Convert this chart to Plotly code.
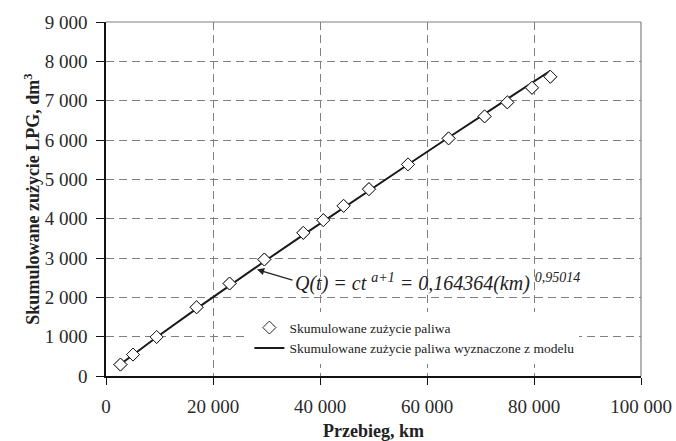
import plotly.graph_objects as go

# Data
przebieg_km = [2700, 5050, 9460, 16935, 23100, 29590, 36880, 40620, 44410,
               49150, 56450, 64040, 70770, 75010, 79630, 83050]
zuzycie_dm3 = [290, 545, 992, 1748, 2351, 2962, 3639, 3962, 4326,
               4750, 5379, 6041, 6601, 6957, 7328, 7608]
# Model curve values read at the same mileages
model_dm3 = [299, 542, 985, 1713, 2301, 2911, 3589, 3934, 4282,
             4716, 5378, 6063, 6667, 7046, 7457, 7761]

x_tickvals = [0, 20000, 40000, 60000, 80000, 100000]
x_ticktext = ["0", "20 000", "40 000", "60 000", "80 000", "100 000"]
y_tickvals = [0, 1000, 2000, 3000, 4000, 5000, 6000, 7000, 8000, 9000]
y_ticktext = ["0", "1 000", "2 000", "3 000", "4 000", "5 000",
              "6 000", "7 000", "8 000", "9 000"]

FONT = "Liberation Serif, Times New Roman, serif"

fig = go.Figure()
fig.add_trace(go.Scatter(
    x=przebieg_km, y=zuzycie_dm3, mode="markers",
    name="Skumulowane zużycie paliwa",
    marker=dict(symbol="diamond", size=10, color="white",
                line=dict(color="#222222", width=1)),
))
fig.add_trace(go.Scatter(
    x=przebieg_km, y=model_dm3, mode="lines",
    name="Skumulowane zużycie paliwa wyznaczone z modelu",
    line=dict(color="#1a1a1a", width=2),
))
# re-draw markers on top of the line
fig.add_trace(go.Scatter(
    x=przebieg_km, y=zuzycie_dm3, mode="markers", showlegend=False,
    marker=dict(symbol="diamond", size=10, color="white",
                line=dict(color="#222222", width=1)),
    hoverinfo="skip",
))

fig.update_layout(
    width=676, height=441,
    margin=dict(l=106, r=35, t=22, b=65, autoexpand=False),
    paper_bgcolor="white", plot_bgcolor="white",
    font=dict(family=FONT, size=18, color="#222222"),
    showlegend=True,
    legend=dict(
        x=0.268, y=0.18, xanchor="left", yanchor="top",
        bgcolor="white", borderwidth=0,
        font=dict(family=FONT, size=13.5, color="#222222"),
        tracegroupgap=0,
    ),
    xaxis=dict(
        range=[0, 100000], tickvals=x_tickvals, ticktext=x_ticktext,
        tickfont=dict(family=FONT, size=19, color="#2a2a2a"),
        showgrid=True, gridcolor="#808080", griddash="8px,5px", gridwidth=1,
        showline=True, linecolor="#111111", linewidth=1.5,
        ticks="outside", ticklen=7, tickcolor="#111111",
        zeroline=False, ticklabelstandoff=5, automargin=False,
        title=dict(text="<b>Przebieg, km</b>", font=dict(family=FONT, size=18),
                   standoff=9),
    ),
    yaxis=dict(
        range=[0, 9000], tickvals=y_tickvals, ticktext=y_ticktext,
        tickfont=dict(family=FONT, size=19, color="#2a2a2a"),
        showgrid=True, gridcolor="#808080", griddash="8px,5px", gridwidth=1,
        showline=True, linecolor="#111111", linewidth=1.5,
        ticks="outside", ticklen=8, tickcolor="#111111",
        zeroline=False, ticklabelstandoff=5, automargin=False,
        title=dict(text="<b>Skumulowane zużycie LPG, dm<sup>3</sup></b>",
                   font=dict(family=FONT, size=18), standoff=0),
    ),
    shapes=[
        dict(type="line", xref="x domain", yref="y domain", x0=0, x1=1, y0=1, y1=1,
             line=dict(color="#808080", width=1.2)),
        dict(type="line", xref="x domain", yref="y domain", x0=1, x1=1, y0=0, y1=1,
             line=dict(color="#808080", width=1.2)),
    ],
    annotations=[
        dict(x=28224, y=2707, xref="x", yref="y", showarrow=True, text="",
             ax=37, ay=11, arrowhead=2, arrowsize=1.2, arrowwidth=1.2,
             arrowcolor="#222222"),
        dict(x=35010, y=2380, xref="x", yref="y", xanchor="left", yanchor="middle",
             showarrow=False,
             text="<i>Q(t) = ct <sup>a+1</sup> = 0,164364(km) <sup>0,95014</sup></i>",
             font=dict(family=FONT, size=20, color="#222222")),
    ],
)

fig.write_html("out.html")
